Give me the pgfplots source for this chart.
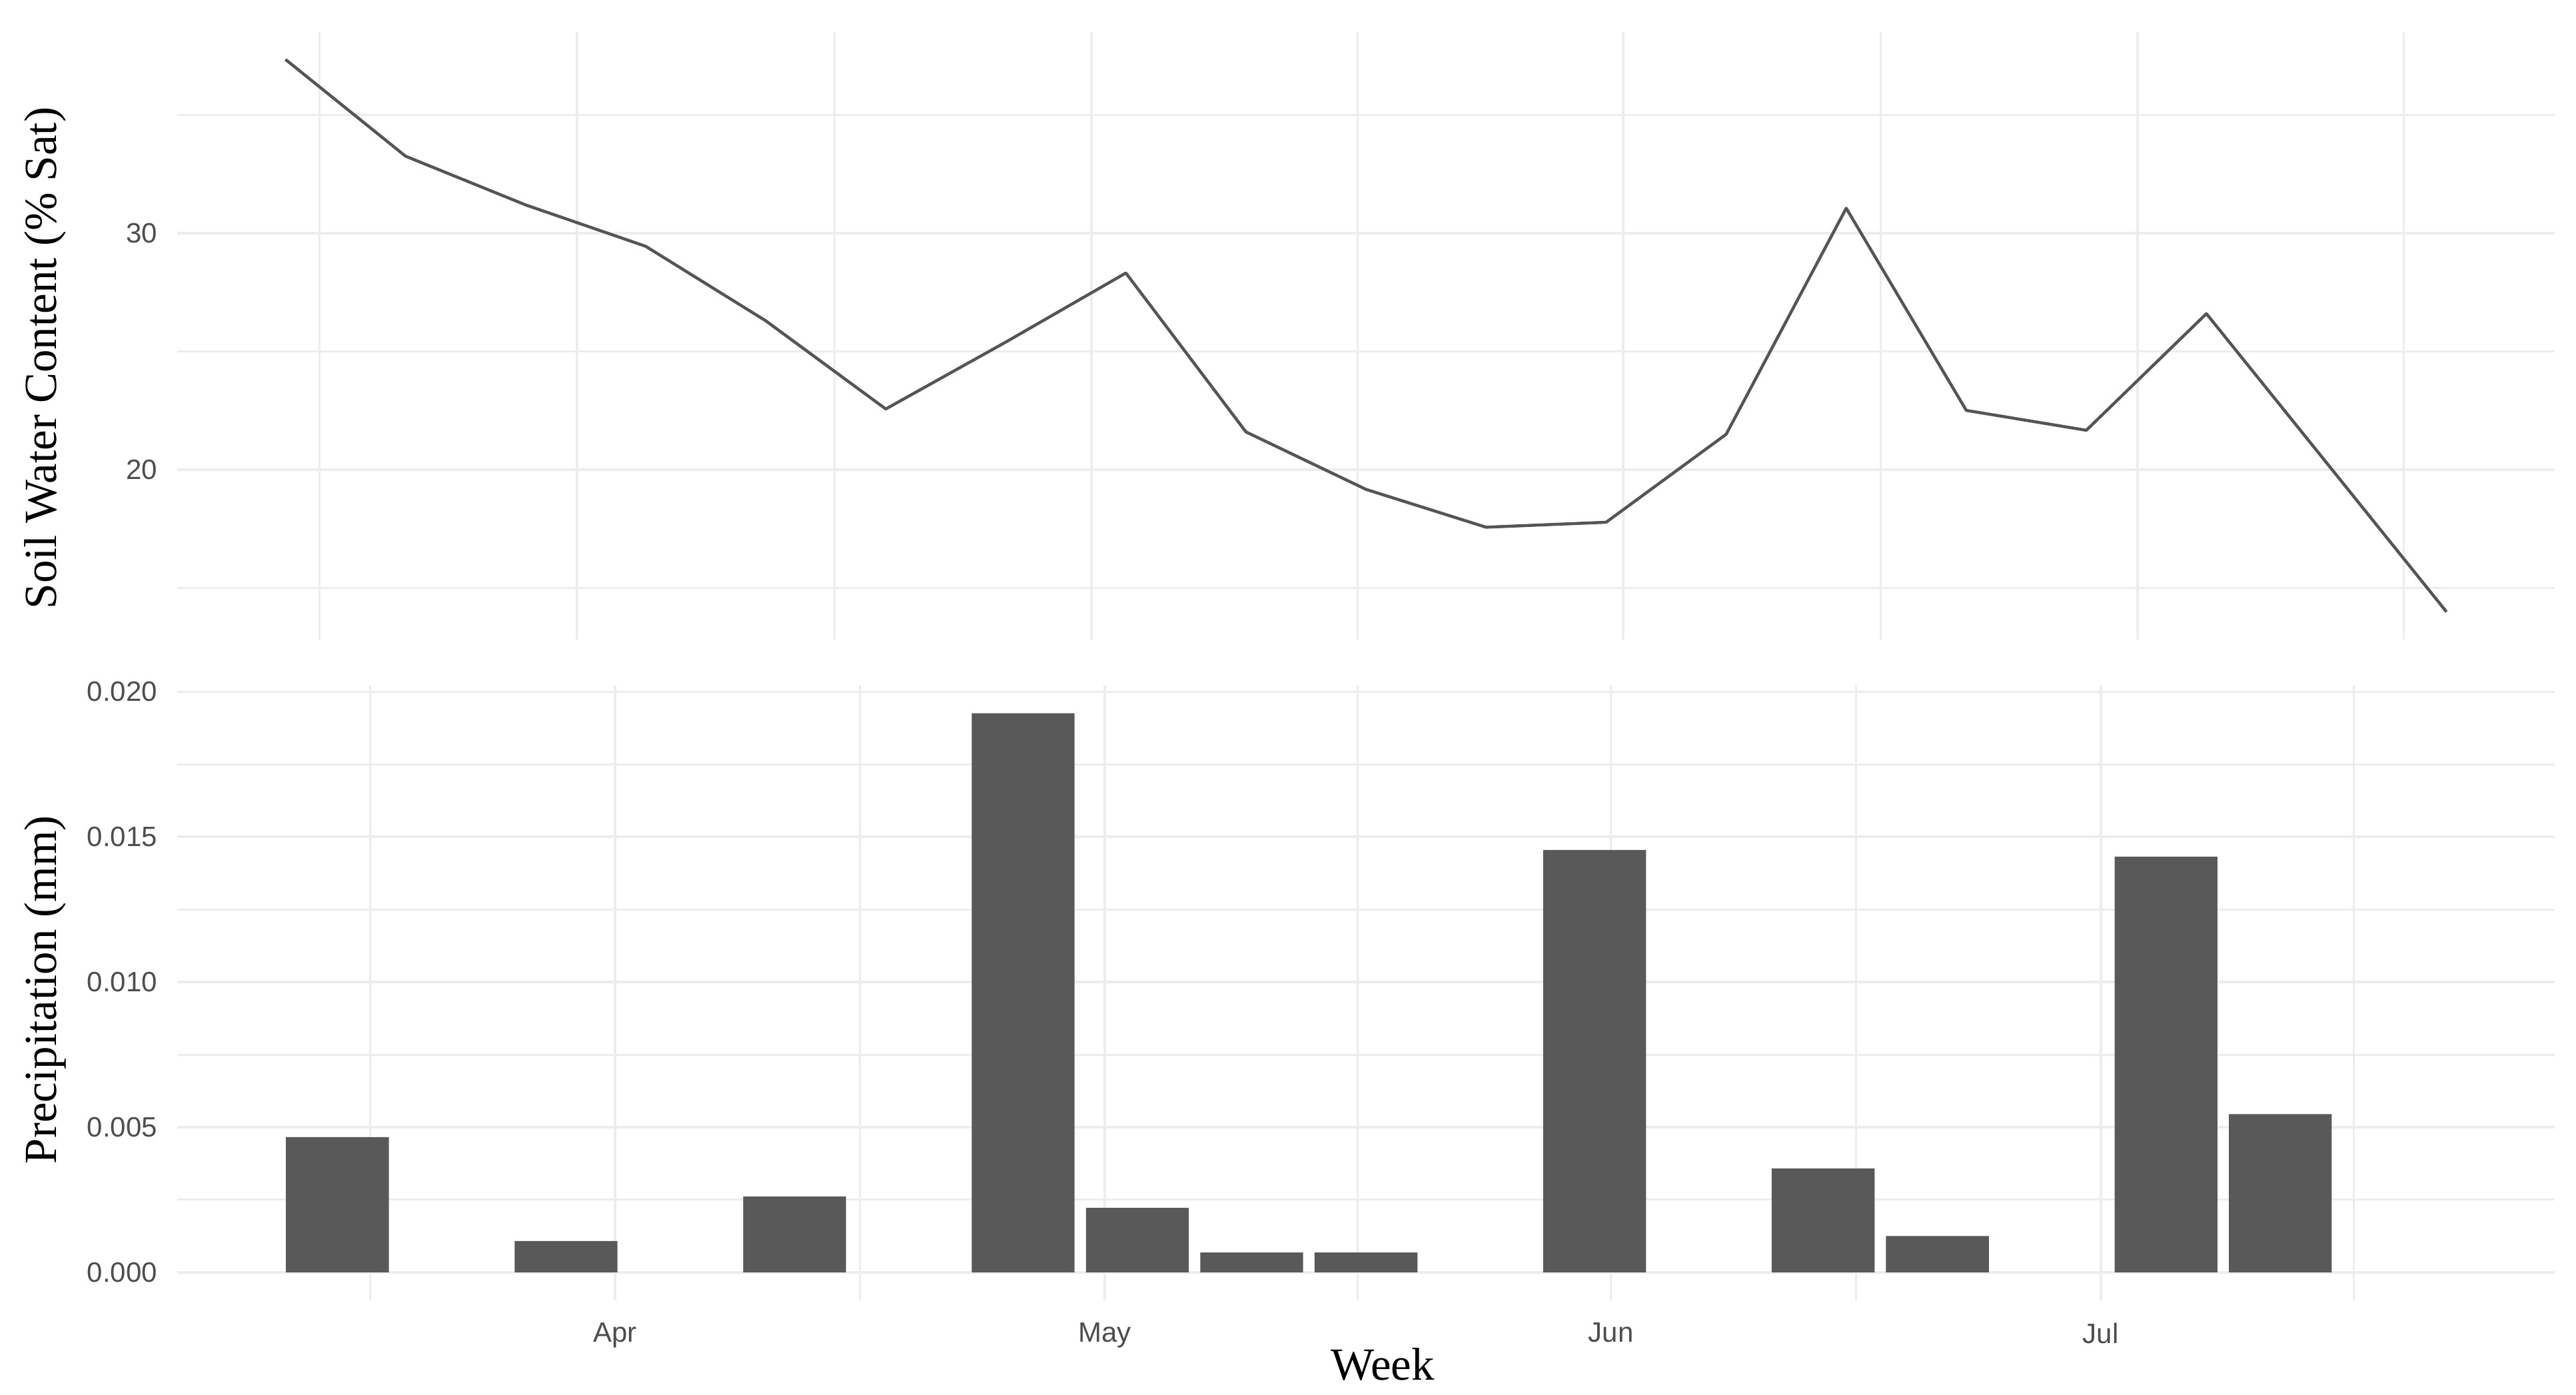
\documentclass[border=0pt]{standalone}
\usepackage{pgfplots}
\pgfplotsset{compat=1.18}
\usepackage{fontspec}
\setmainfont{Liberation Serif}
\newfontfamily\tickfont{Liberation Sans}
\definecolor{gridc}{HTML}{EDEDED}
\definecolor{tickc}{HTML}{4D4D4D}
\definecolor{barc}{HTML}{595959}
\definecolor{linec}{HTML}{555555}
\pgfplotsset{panel/.style={
  scale only axis, width=713.5pt,
  axis line style={draw=none},
  major tick length=0pt, minor tick length=0pt,
  tick style={draw=none},
  grid=both,
  major grid style={gridc, line width=0.75pt},
  minor grid style={gridc, line width=0.6pt},
  xtick={0,30,61,91},
  minor xtick={-15,15,45.5,76,106.5},
  tick label style={font=\fontsize{8.4}{10}\tickfont, text=tickc},
  yticklabel style={anchor=east, inner sep=0pt, xshift=-5.9pt},
  label style={font=\fontsize{13.8}{16}\selectfont, text=black},
  scaled y ticks=false,
}}
\begin{document}
\begin{tikzpicture}
\path[use as bounding box] (0,0) rectangle (773.2pt,418.7pt);
% top panel: soil water content
\begin{axis}[panel,
  at={(53.26pt,226.7pt)}, anchor=south west,
  height=182.45pt,
  xmin=-23.3, xmax=115.3,
  ymin=12.82, ymax=38.52,
  xticklabels={},
  ytick={20,30}, yticklabels={20,30},
  minor ytick={15,25,35},
  ylabel={Soil Water Content (\% Sat)},
  ylabel style={at={(axis description cs:-0.051,0.463)}, anchor=base},
]
\addplot[linec, line width=0.9pt, line join=round] coordinates {
(-17,37.35) (-10,33.26) (-3,31.2) (4,29.45) (11,26.3) (18,22.57)
(25,25.4) (32,28.32) (39,21.6) (46,19.17) (53,17.57) (60,17.78)
(67,21.5) (74,31.06) (81,22.51) (88,21.67) (95,26.6) (102,20.3) (109,13.99)
};
\end{axis}
% bottom panel: precipitation
\begin{axis}[panel,
  at={(53.26pt,28.35pt)}, anchor=south west,
  height=184.6pt,
  xmin=-26.8, xmax=118.8,
  ymin=-0.000963, ymax=0.020223,
  xticklabels={Apr,May,Jun,Jul},
  xticklabel style={anchor=north, inner sep=0pt, yshift=-6.6pt},
  ytick={0,0.005,0.010,0.015,0.020},
  yticklabels={0.000,0.005,0.010,0.015,0.020},
  minor ytick={0.0025,0.0075,0.0125,0.0175},
  ybar, bar width=6.3,
  ylabel={Precipitation (mm)},
  ylabel style={at={(axis description cs:-0.051,0.505)}, anchor=base},
  xlabel={Week},
  xlabel style={at={(axis description cs:0.507,-0.130)}, anchor=base},
]
\addplot[fill=barc, draw=none] coordinates {
(-17,0.00466) (-3,0.00108) (11,0.00261) (25,0.01926) (32,0.00222)
(39,0.00068) (46,0.00068) (60,0.01455) (74,0.00358) (81,0.00125)
(95,0.01432) (102,0.00545)
};
\end{axis}
\end{tikzpicture}
\end{document}
